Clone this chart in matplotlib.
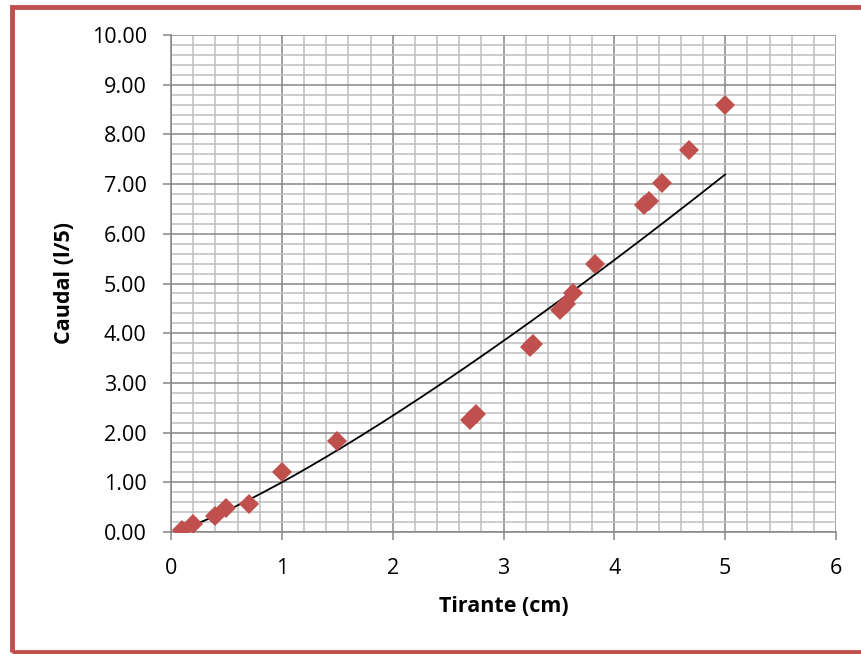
import numpy as np
import matplotlib.pyplot as plt
from matplotlib.patches import Rectangle
from matplotlib.ticker import MultipleLocator

# datos
tirante = [0.10, 0.20, 0.40, 0.50, 0.70, 1.00, 1.50, 2.70, 2.75, 3.24, 3.27,
           3.51, 3.56, 3.63, 3.83, 4.27, 4.31, 4.43, 4.67, 5.00]
caudal = [0.05, 0.16, 0.33, 0.48, 0.57, 1.21, 1.83, 2.25, 2.38, 3.72, 3.78,
          4.46, 4.59, 4.81, 5.39, 6.57, 6.65, 7.02, 7.69, 8.59]
# linea de tendencia potencial y = a*x^b
a_pot = 1.0
b_pot = 1.226

red = '#C0504D'
plt.rcParams['font.family'] = ['Open Sans', 'DejaVu Sans']

fig = plt.figure(figsize=(8.61, 6.54), dpi=100)
ax = fig.add_axes([171/861, 1-532/654, (836-171)/861, (532-35)/654])

ax.set_xlim(0, 6)
ax.set_ylim(0, 10)
ax.xaxis.set_major_locator(MultipleLocator(1))
ax.xaxis.set_minor_locator(MultipleLocator(0.2))
ax.yaxis.set_major_locator(MultipleLocator(1))
ax.yaxis.set_minor_locator(MultipleLocator(0.2))
ax.grid(which='minor', color='#BFBFBF', lw=1.1, zorder=0)
ax.grid(which='major', color='#868686', lw=1.1, zorder=0)
ax.set_axisbelow(True)

for s in ['top', 'right']:
    ax.spines[s].set_visible(False)
for s in ['left', 'bottom']:
    ax.spines[s].set_color('#868686')
    ax.spines[s].set_linewidth(1.1)

ax.set_yticks(np.arange(0, 11, 1))
ax.set_yticklabels(['%.2f' % v for v in np.arange(0, 11, 1)])
ax.tick_params(which='major', length=6, width=1.1, color='#868686',
               labelsize=15.5)
ax.tick_params(axis='y', which='major', pad=11.5)
ax.tick_params(axis='x', which='major', pad=13)
ax.tick_params(which='minor', length=0)

xs = np.linspace(min(tirante), max(tirante), 200)
ax.plot(xs, a_pot * xs ** b_pot, color='black', lw=1.3, zorder=3)
ax.plot(tirante, caudal, 'D', color=red, ms=10.5, mew=0, zorder=4)

ax.set_xlabel('Tirante (cm)', fontsize=15.5, fontweight='bold', labelpad=12)
ax.set_ylabel('Caudal (l/5)', fontsize=15.5, fontweight='bold', labelpad=12)

fig.patches.append(Rectangle((11.5/861, 2/654), 900/861, (647-2)/654,
                             transform=fig.transFigure, fill=False,
                             edgecolor=red, lw=3.5))

fig.savefig('out.png', dpi=100)
